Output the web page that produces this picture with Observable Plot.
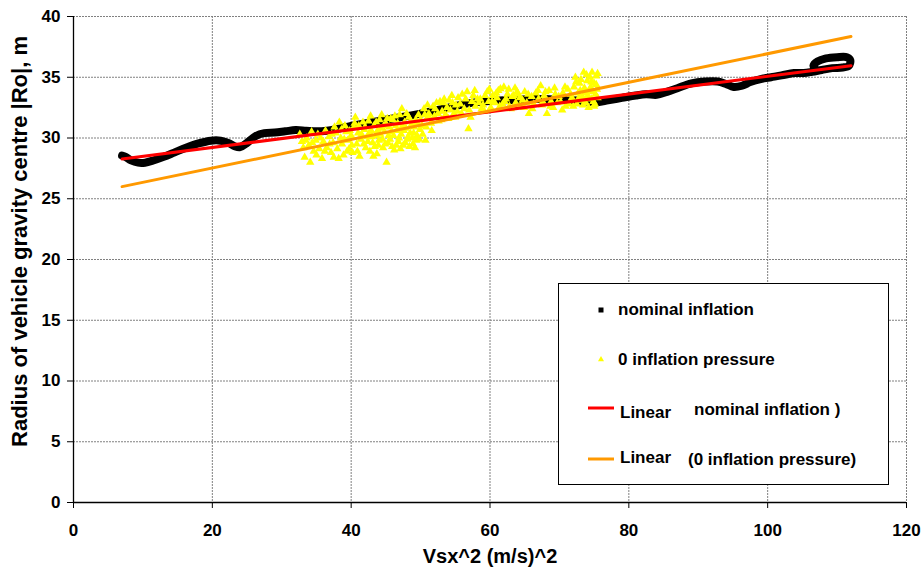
<!DOCTYPE html>
<html>
<head>
<meta charset="utf-8">
<script src="https://cdn.jsdelivr.net/npm/d3@7"></script>
<script src="https://cdn.jsdelivr.net/npm/@observablehq/plot@0.6"></script>
<style>
  body { margin: 0; background: #fff; }
  #chart { position: relative; width: 922px; height: 573px; font-family: Arial, "Liberation Sans", sans-serif; }
  #legend { position: absolute; left: 557.5px; top: 282.5px; }
</style>
</head>
<body>
<div id="chart"></div>
<script>
// ---- axis ticks and titles ----
const xTicks = [0, 20, 40, 60, 80, 100, 120];
const yTicks = [0, 5, 10, 15, 20, 25, 30, 35, 40];
const xTitle = "Vsx^2 (m/s)^2";
const yTitle = "Radius of vehicle gravity centre |Ro|, m";

// ---- series names (legend) ----
const seriesNames = ["nominal inflation", "0 inflation pressure"];
const fitNames = ["nominal inflation )", "(0 inflation pressure)"];
const fitPrefix = "Linear";

// ---- nominal inflation (black, dense markers tracing a path) [Vsx^2, R] ----
const nominalPoints = [
  [7.0, 28.55], [7.5, 28.45], [8.3, 28.15], [9.3, 27.97], [10.3, 27.97], [11.5, 28.15],
  [13.0, 28.45], [14.5, 28.8], [16.2, 29.2], [18.0, 29.55], [19.8, 29.78], [21.2, 29.78],
  [22.3, 29.6], [23.3, 29.3], [24.0, 29.25], [25.0, 29.6], [26.2, 30.15], [27.5, 30.4],
  [29.0, 30.45], [30.5, 30.55], [32.0, 30.65], [33.5, 30.6], [35.0, 30.55], [36.5, 30.6],
  [38.0, 30.75], [40.0, 31.0], [42.0, 31.2], [44.0, 31.4], [46.0, 31.6], [48.0, 31.8],
  [50.0, 32.0], [52.0, 32.25], [54.0, 32.5], [56.0, 32.75], [58.0, 32.95], [60.0, 33.05],
  [62.0, 33.1], [64.0, 33.15], [66.0, 33.2], [68.0, 33.2], [70.0, 33.15], [72.0, 33.1],
  [74.0, 33.0], [75.5, 32.95], [77.0, 33.1], [79.0, 33.3], [81.0, 33.5], [82.5, 33.6],
  [84.0, 33.55], [85.5, 33.8], [87.0, 34.1], [89.0, 34.5], [91.0, 34.65], [92.8, 34.65],
  [94.0, 34.45], [95.1, 34.2], [96.3, 34.3], [97.5, 34.6], [99.0, 34.85], [100.5, 35.0],
  [102.0, 35.15], [103.8, 35.35], [105.2, 35.35], [106.4, 35.45], [107.8, 35.6], [109.3, 35.75],
  [110.8, 35.8], [111.7, 35.95], [111.9, 36.4], [111.4, 36.65], [110.0, 36.65], [108.4, 36.55],
  [107.2, 36.3], [106.6, 35.95], [107.0, 35.6]
];

// ---- 0 inflation pressure (yellow triangles) [Vsx^2, R] ----
const zeroPoints = [
  [32.6, 30.3], [32.9, 29.7], [33.1, 29.2], [33.3, 28.4], [33.6, 30.0], [33.9, 29.4], [34.1, 28.0],
  [34.3, 30.5], [34.6, 28.9], [34.9, 29.8], [35.2, 30.3], [35.4, 29.1], [35.8, 28.3], [36.0, 29.7],
  [36.3, 30.6], [36.5, 29.2], [36.8, 30.1], [37.1, 28.8], [37.4, 29.6], [37.5, 28.4], [37.8, 30.4],
  [38.0, 29.1], [33.4, 29.8], [34.4, 29.6], [35.0, 28.6], [35.6, 30.0], [36.2, 28.9], [36.9, 29.5],
  [37.6, 30.9], [37.2, 30.3], [38.2, 28.3],
  [38.3, 31.3], [38.5, 30.0], [38.7, 29.5], [38.9, 28.6], [39.1, 31.0], [39.3, 30.5], [39.5, 29.8],
  [39.7, 29.1], [40.0, 30.2], [40.2, 28.8], [40.4, 30.9], [40.6, 31.7], [40.8, 29.5], [41.0, 30.4],
  [41.2, 28.5], [41.4, 29.9], [41.7, 31.3], [41.9, 30.7], [42.1, 29.2], [42.3, 30.1], [42.5, 31.4],
  [42.7, 28.9], [42.9, 30.6], [43.1, 29.6], [43.3, 31.0], [43.5, 30.2], [43.7, 28.7], [43.9, 29.4],
  [44.1, 31.5], [44.3, 30.8],
  [38.6, 30.7], [39.0, 29.9], [39.4, 28.9], [39.8, 30.6], [40.1, 29.4], [40.5, 31.2], [40.9, 28.9],
  [41.1, 31.0], [41.5, 30.3], [41.8, 29.5], [42.0, 30.9], [42.4, 29.7], [42.6, 30.4], [42.8, 31.8],
  [43.0, 30.1], [43.2, 28.5], [43.4, 29.3], [43.6, 31.3], [43.8, 30.6], [44.0, 29.8], [44.2, 30.3],
  [44.4, 31.9],
  [44.5, 29.9], [44.6, 29.2], [44.8, 30.5], [45.0, 31.2], [45.1, 28.0], [45.3, 29.6], [45.5, 30.9],
  [45.7, 31.6], [45.9, 29.3], [46.1, 30.2], [46.2, 29.0], [46.4, 31.0], [46.6, 30.6], [46.8, 29.7],
  [47.0, 31.9], [47.2, 30.3], [47.3, 32.4], [47.5, 29.4], [47.7, 31.3], [47.9, 30.8], [48.1, 29.9],
  [48.3, 31.7], [48.5, 30.4], [48.7, 31.1], [48.9, 29.5], [49.1, 30.9], [49.3, 31.5], [49.5, 30.2],
  [49.7, 31.9], [49.9, 30.7], [44.7, 31.0], [45.4, 30.2], [46.0, 31.5], [46.9, 30.0], [47.6, 30.6],
  [48.2, 30.1], [48.8, 30.0], [49.4, 29.8],
  [44.9, 29.5], [45.2, 31.6], [45.6, 29.9], [45.8, 30.5], [46.3, 31.8], [46.5, 29.4], [46.7, 31.2],
  [47.1, 29.1], [47.4, 31.0], [47.8, 29.6], [48.0, 32.0], [48.4, 29.3], [48.6, 31.4], [49.0, 30.4],
  [49.2, 29.2], [49.6, 31.2], [49.8, 29.9],
  [50.2, 31.0], [50.5, 32.4], [50.7, 29.8], [50.9, 31.6], [51.2, 32.0], [51.5, 31.2], [51.8, 32.6],
  [52.0, 31.8], [52.3, 32.9], [52.6, 31.4], [52.8, 33.0], [53.1, 32.2], [53.3, 32.9], [53.6, 31.9],
  [53.8, 32.5], [54.1, 33.1], [54.3, 32.3], [54.5, 33.5], [54.8, 32.0], [55.1, 32.7], [55.4, 33.3],
  [55.7, 32.8], [56.0, 33.6], [56.3, 32.4],
  [50.0, 31.5], [50.3, 30.3], [50.6, 31.9], [50.8, 30.9], [51.0, 32.7], [51.3, 31.6], [51.6, 30.6],
  [52.1, 32.4], [52.5, 32.0], [53.0, 31.5], [53.4, 33.2], [54.0, 31.6], [54.6, 32.9], [55.0, 31.7],
  [55.3, 32.2], [55.9, 32.0],
  [56.7, 33.8], [56.9, 30.75], [57.2, 31.7], [57.4, 33.0], [57.6, 33.5], [57.9, 32.6], [58.2, 33.2],
  [58.6, 33.2], [58.8, 32.4], [59.0, 32.7], [59.3, 33.5], [59.6, 33.8], [59.8, 33.0], [60.1, 32.5],
  [60.4, 33.5], [60.7, 32.9], [61.0, 33.3], [61.2, 33.9], [61.5, 34.05], [61.8, 32.8], [62.0, 34.2],
  [62.3, 33.2], [62.5, 33.6], [62.8, 32.6], [63.2, 33.4], [63.4, 33.5], [63.7, 32.9], [63.9, 33.8],
  [56.5, 33.2], [57.0, 32.3], [57.8, 33.9], [58.4, 32.9], [59.2, 32.2], [59.9, 34.0], [60.3, 33.0],
  [60.9, 33.7], [61.4, 32.6], [62.1, 33.0], [62.7, 34.0], [63.0, 32.4], [63.6, 34.1],
  [64.1, 33.6], [64.4, 32.6], [64.7, 33.1], [65.0, 33.8], [65.3, 32.9], [65.6, 32.0], [66.0, 33.4],
  [66.3, 32.8], [66.6, 33.7], [67.0, 33.2], [67.3, 34.3], [67.5, 32.7], [67.8, 33.5], [68.2, 32.0],
  [68.5, 33.9], [68.8, 33.0], [69.1, 32.5], [69.4, 33.6], [69.9, 33.4],
  [64.3, 33.3], [64.9, 32.5], [65.5, 33.6], [66.1, 32.4], [66.9, 33.9], [67.6, 33.0], [68.0, 33.8],
  [68.7, 32.6], [69.3, 34.1], [69.7, 32.9],
  [70.2, 32.95], [70.5, 33.7], [70.9, 32.6], [71.2, 34.0], [71.4, 32.8], [71.8, 33.3], [72.1, 34.2],
  [72.3, 35.0], [72.5, 32.8], [72.7, 33.7], [72.9, 34.5], [73.0, 33.9], [73.2, 33.1], [73.3, 33.4],
  [73.5, 35.4], [73.6, 34.1], [73.8, 32.9], [74.0, 34.7], [74.1, 33.5], [74.2, 32.5], [74.4, 35.0],
  [74.5, 34.2], [74.6, 33.2], [74.7, 35.4], [74.8, 33.8], [74.9, 33.0], [75.0, 34.5], [75.1, 32.8],
  [75.2, 33.6], [75.3, 35.1], [75.4, 34.0], [75.5, 33.3],
  [70.4, 32.3], [70.8, 34.2], [71.6, 33.6], [72.0, 32.6], [72.4, 34.6], [72.8, 33.3], [73.1, 34.8],
  [73.4, 32.7], [73.7, 33.7], [73.9, 35.2], [74.3, 33.9], [74.6, 34.6], [75.0, 32.6], [75.3, 34.4],
  [75.5, 35.3]
];

// ---- linear trend lines (end points) ----
const fitX = [7.0, 112.0];
const fitNominalY = [28.27, 35.95];
const fitZeroY = [26.0, 38.35];

// ---- colours ----
const colNominal = "#000000";
const colZero = "#FFFF00";
const colFitNominal = "#FF0000";
const colFitZero = "#FF9900";

const fitNominal = fitX.map((x, i) => ({x, y: fitNominalY[i]}));
const fitZero = fitX.map((x, i) => ({x, y: fitZeroY[i]}));

const gridStyle = {stroke: "#808080", strokeOpacity: 1, strokeWidth: 1, strokeDasharray: "2,1"};

const plot = Plot.plot({
  width: 922,
  height: 573,
  marginLeft: 73,
  marginRight: 16,
  marginTop: 16,
  marginBottom: 71,
  style: {fontFamily: 'Arial, "Liberation Sans", sans-serif', fontSize: "17px", fontWeight: "bold", color: "#000", background: "#fff"},
  x: {domain: [0, 120]},
  y: {domain: [0, 40]},
  marks: [
    Plot.gridX(xTicks, gridStyle),
    Plot.gridY(yTicks, gridStyle),
    Plot.line(nominalPoints, {x: d => d[0], y: d => d[1], stroke: colNominal, strokeWidth: 8, curve: "catmull-rom", strokeLinejoin: "round"}),
    Plot.dot(zeroPoints, {x: d => d[0], y: d => d[1], symbol: "triangle", r: 3.1, fill: colZero, stroke: "none"}),
    Plot.line(fitNominal, {x: "x", y: "y", stroke: colFitNominal, strokeWidth: 3}),
    Plot.line(fitZero, {x: "x", y: "y", stroke: colFitZero, strokeWidth: 3}),
    Plot.ruleX([0], {stroke: "#000", strokeWidth: 1.3}),
    Plot.ruleY([0], {stroke: "#000", strokeWidth: 1.3}),
    Plot.axisX({ticks: xTicks, tickSize: 6, tickPadding: 15, label: null}),
    Plot.axisY({ticks: yTicks, tickSize: 6, tickPadding: 7, label: null}),
    Plot.text([xTitle], {text: d => d, frameAnchor: "bottom", dy: 60, fontSize: 20, fontWeight: "bold"}),
    Plot.text([yTitle], {text: d => d, frameAnchor: "left", textAnchor: "middle", dx: -54, dy: -18, rotate: -90, fontSize: 22, fontWeight: "bold"})
  ]
});
document.getElementById("chart").appendChild(plot);

// ---- legend (inside plot area) ----
const lg = d3.select("#chart").append("svg")
  .attr("id", "legend")
  .attr("width", 332).attr("height", 203)
  .style("font-family", 'Arial, "Liberation Sans", sans-serif')
  .style("font-weight", "bold")
  .style("font-size", "17px");
lg.append("rect").attr("x", 0.5).attr("y", 0.5).attr("width", 330).attr("height", 201)
  .attr("fill", "#fff").attr("stroke", "#000").attr("stroke-width", 1);
lg.append("rect").attr("x", 40.5).attr("y", 24.5).attr("width", 5).attr("height", 5).attr("fill", colNominal);
lg.append("text").attr("x", 60).attr("y", 32).text(seriesNames[0]);
lg.append("path").attr("d", d3.symbol(d3.symbolTriangle, 16)()).attr("transform", "translate(43,76.5)").attr("fill", colZero);
lg.append("text").attr("x", 60).attr("y", 82).text(seriesNames[1]);
lg.append("line").attr("x1", 30).attr("x2", 56).attr("y1", 125).attr("y2", 125).attr("stroke", colFitNominal).attr("stroke-width", 3);
lg.append("text").attr("x", 62).attr("y", 134.5).text(fitPrefix);
lg.append("text").attr("x", 136).attr("y", 132).text(fitNames[0]);
lg.append("line").attr("x1", 30).attr("x2", 56).attr("y1", 176).attr("y2", 176).attr("stroke", colFitZero).attr("stroke-width", 3);
lg.append("text").attr("x", 62).attr("y", 180).text(fitPrefix);
lg.append("text").attr("x", 130).attr("y", 182).text(fitNames[1]);
</script>
</body>
</html>
